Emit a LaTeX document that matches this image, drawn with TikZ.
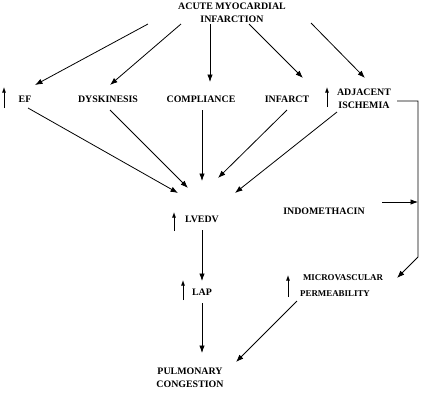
\documentclass[tikz,border=0pt]{standalone}
\usepackage{fontspec}
\setmainfont{Liberation Serif}
\usetikzlibrary{arrows.meta}
\begin{document}
\begin{tikzpicture}[
  x=1pt, y=-1pt,
  label/.style={font=\fontsize{9.9}{13}\selectfont\bfseries, align=center, inner sep=0pt},
  smalllabel/.style={font=\fontsize{8.9}{11}\selectfont\bfseries, inner sep=0pt},
  link/.style={-{Latex[length=7.5pt, width=5.5pt]}, line width=0.8pt},
  rise/.style={-{Latex[length=5.5pt, width=4pt]}, line width=0.9pt}
]
\useasboundingbox (0,0) rectangle (423,416);
% nodes
\node[label] (title) at (232,12.5) {ACUTE MYOCARDIAL\\INFARCTION};
\node[label] (ef) at (25,99) {EF};
\node[label] (dysk) at (108,99) {DYSKINESIS};
\node[label] (compl) at (201,99) {COMPLIANCE};
\node[label] (infarct) at (287,99) {INFARCT};
\node[label] (adj) at (364,98.5) {ADJACENT\\ISCHEMIA};
\node[label] (lvedv) at (202,219) {LVEDV};
\node[label] (indo) at (324,211) {INDOMETHACIN};
\node[label] (lap) at (202,292) {LAP};
\node[smalllabel] (micro) at (343,278) {MICROVASCULAR};
\node[smalllabel] (perm) at (335,294) {PERMEABILITY};
\node[label] (pulm) at (190,378) {PULMONARY\\CONGESTION};
\coordinate (bend) at (418,257);
\coordinate (join) at (418,202);
% increase marks
\foreach \n/\dx/\dy/\len in {ef/-21/9/21, adj/-37/8.5/20, lvedv/-28/12/19, lap/-19/8/20, micro/-55/19/22}
  \draw[rise] ([shift={(\dx,\dy)}]\n.center) -- ++(0,-\len);
% from infarction
\draw[link] ([shift={(-84,11.5)}]title.center) -- ([shift={(10,-14)}]ef.center);
\draw[link] ([shift={(-51,11.5)}]title.center) -- ([shift={(2,-14)}]dysk.center);
\draw[link] ([shift={(-22,11.5)}]title.center) -- ([shift={(9,-17)}]compl.center);
\draw[link] ([shift={(17,11.5)}]title.center) -- ([shift={(16,-21)}]infarct.center);
\draw[link] ([shift={(79,10.5)}]title.center) -- ([shift={(1,-20.5)}]adj.center);
% into lvedv
\draw[link] ([shift={(3,9)}]ef.center) -- ([shift={(-24,-26)}]lvedv.center);
\draw[link] ([shift={(2,11)}]dysk.center) -- ([shift={(-14,-31)}]lvedv.center);
\draw[link] ([shift={(1,11)}]compl.center) -- ([shift={(0,-38)}]lvedv.center);
\draw[link] ([shift={(0,11)}]infarct.center) -- ([shift={(16,-41)}]lvedv.center);
\draw[link] ([shift={(-27,13.5)}]adj.center) -- ([shift={(33,-26)}]lvedv.center);
% down the chain
\draw[link] ([shift={(0,11)}]lvedv.center) -- ([shift={(0,-11)}]lap.center);
\draw[link] ([shift={(0,11)}]lap.center) -- ([shift={(12,-25)}]pulm.center);
\draw[link] ([shift={(-38,7)}]perm.center) -- ([shift={(46,-16)}]pulm.center);
% right side path
\draw[link] ([shift={(33,2.5)}]adj.center) -| (bend) -- ([shift={(54,0)}]micro.center);
\draw[link] ([shift={(58,-9)}]indo.center) -- (join);
\end{tikzpicture}
\end{document}
